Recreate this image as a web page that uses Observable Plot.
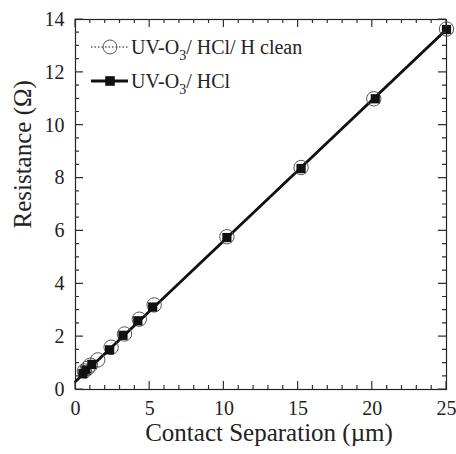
<!DOCTYPE html>
<html>
<head>
<meta charset="utf-8">
<script src="https://cdn.jsdelivr.net/npm/d3@7"></script>
<script src="https://cdn.jsdelivr.net/npm/@observablehq/plot@0.6"></script>
<style>
  html, body { margin: 0; padding: 0; background: #fff; }
  #chart { width: 456px; height: 454px; }
  #chart svg text { font-family: 'Liberation Serif', 'Times New Roman', serif !important; }
</style>
</head>
<body>
<div id="chart"></div>
<script>
// Series A: UV-O3/ HCl/ H clean (open circles, dotted fit)
const aX = [0.6, 0.8, 1.0, 1.5, 2.4, 3.3, 4.3, 5.3, 10.2, 15.2, 20.1, 25.0];
const aY = [0.70, 0.80, 0.92, 1.12, 1.60, 2.10, 2.66, 3.20, 5.78, 8.40, 11.00, 13.64];
// Series B: UV-O3/ HCl (filled squares, solid fit)
const bX = [0.5, 0.7, 1.1, 2.3, 3.2, 4.2, 5.2, 10.2, 15.2, 20.2, 25.0];
const bY = [0.60, 0.74, 0.95, 1.50, 2.05, 2.60, 3.12, 5.75, 8.36, 11.00, 13.62];
// Linear fits (endpoints)
const fitAX = [0, 25];
const fitAY = [0.30, 13.66];
const fitBX = [0, 25];
const fitBY = [0.30, 13.62];
// Ticks
const xMajor = [0, 5, 10, 15, 20, 25];
const xMinor = [0,1,2,3,4,5,6,7,8,9,10,11,12,13,14,15,16,17,18,19,20,21,22,23,24,25];
const yMajor = [0, 2, 4, 6, 8, 10, 12, 14];
const yMinor = [0,0.5,1,1.5,2,2.5,3,3.5,4,4.5,5,5.5,6,6.5,7,7.5,8,8.5,9,9.5,10,10.5,11,11.5,12,12.5,13,13.5,14];
const xLabel = "Contact Separation (µm)";
const yLabel = "Resistance (Ω)";
const legendLabels = [["UV-O", "3", "/ HCl/ H clean"], ["UV-O", "3", "/ HCl"]];

const W = 456, H = 454;
const mL = 75, mR = 10, mT = 19, mB = 65;
const font = "'Liberation Serif', 'Times New Roman', serif";

const A = aX.map((x, i) => ({x, y: aY[i]}));
const B = bX.map((x, i) => ({x, y: bY[i]}));
const FA = fitAX.map((x, i) => ({x, y: fitAY[i]}));
const FB = fitBX.map((x, i) => ({x, y: fitBY[i]}));

const plot = Plot.plot({
  width: W, height: H,
  marginLeft: mL, marginRight: mR, marginTop: mT, marginBottom: mB,
  x: {domain: [0, 25]},
  y: {domain: [0, 14]},
  style: {fontFamily: font, fontSize: "20px", color: "#222", background: "#fff"},
  marks: [
    Plot.frame({stroke: "#222", strokeWidth: 1.2, fill: "none"}),
    Plot.axisX({ticks: xMajor, tickSize: 0, tickPadding: 11, label: null, fill: "#222", fontSize: 20, fontFamily: font}),
    Plot.axisY({ticks: yMajor, tickSize: 0, tickPadding: 11, label: null, fill: "#222", fontSize: 20, fontFamily: font}),
    Plot.text([xLabel], {text: d => d, frameAnchor: "bottom", dx: 8, dy: 51, fontSize: 25, fill: "#222"}),
    Plot.text([yLabel], {text: d => d, frameAnchor: "left", dx: -53, dy: 24, rotate: -90, fontSize: 25, fill: "#222"}),
    // fits
    Plot.line(FA, {x: "x", y: "y", stroke: "#111", strokeWidth: 1.2, strokeDasharray: "1.5,2"}),
    Plot.line(FB, {x: "x", y: "y", stroke: "#111", strokeWidth: 2.8}),
    // data
    Plot.dot(A, {x: "x", y: "y", r: 7.2, stroke: "#555", strokeWidth: 1, fill: "none"}),
    Plot.dot(B, {x: "x", y: "y", symbol: "square", r: 5.2, fill: "#111", stroke: "none"})
  ]
});
document.getElementById("chart").appendChild(plot);

// Inward ticks drawn as one path, positioned with Plot's own scales
const svgSel = d3.select(plot);
const scX = plot.scale("x"), scY = plot.scale("y");
const pxX = v => scX.apply(v), pxY = v => scY.apply(v);
const edgeL = pxX(0), edgeR = pxX(25), edgeB = pxY(0), edgeT = pxY(14);
let tickPath = "";
const addTicksX = (vals, len) => vals.forEach(v => {
  const p = pxX(v);
  tickPath += `M${p},${edgeB}V${edgeB - len}M${p},${edgeT}V${edgeT + len}`;
});
const addTicksY = (vals, len) => vals.forEach(v => {
  const p = pxY(v);
  tickPath += `M${edgeL},${p}H${edgeL + len}M${edgeR},${p}H${edgeR - len}`;
});
addTicksX(xMinor, 4); addTicksX(xMajor, 8);
addTicksY(yMinor, 4); addTicksY(yMajor, 8);
svgSel.append("path").attr("d", tickPath).attr("fill", "none")
  .attr("stroke", "#333").attr("stroke-width", 1.2);

// Legend inside the plot (top-left)
const lg = svgSel.append("g").attr("font-family", font).attr("fill", "#222").attr("text-anchor", "start");
const rows = [47, 81];
const lx0 = 91, lx1 = 128, mx = 110, tx = 131;
lg.append("line").attr("x1", lx0).attr("x2", lx1).attr("y1", rows[0]).attr("y2", rows[0])
  .attr("stroke", "#111").attr("stroke-width", 1.2).attr("stroke-dasharray", "1.5,2");
lg.append("circle").attr("cx", mx).attr("cy", rows[0]).attr("r", 7)
  .attr("fill", "none").attr("stroke", "#555");
lg.append("line").attr("x1", lx0).attr("x2", lx1).attr("y1", rows[1]).attr("y2", rows[1])
  .attr("stroke", "#111").attr("stroke-width", 2.8);
lg.append("rect").attr("x", mx - 4.8).attr("y", rows[1] - 4.8).attr("width", 9.6).attr("height", 9.6)
  .attr("fill", "#111");
legendLabels.forEach((parts, i) => {
  const t = lg.append("text").attr("x", tx).attr("y", rows[i]).attr("dy", "0.35em")
    .attr("font-size", 20).attr("text-anchor", "start");
  t.append("tspan").text(parts[0]);
  t.append("tspan").attr("font-size", 14).attr("dy", "0.45em").text(parts[1]);
  t.append("tspan").attr("dy", "-0.32em").text(parts[2]);
});
</script>
</body>
</html>
